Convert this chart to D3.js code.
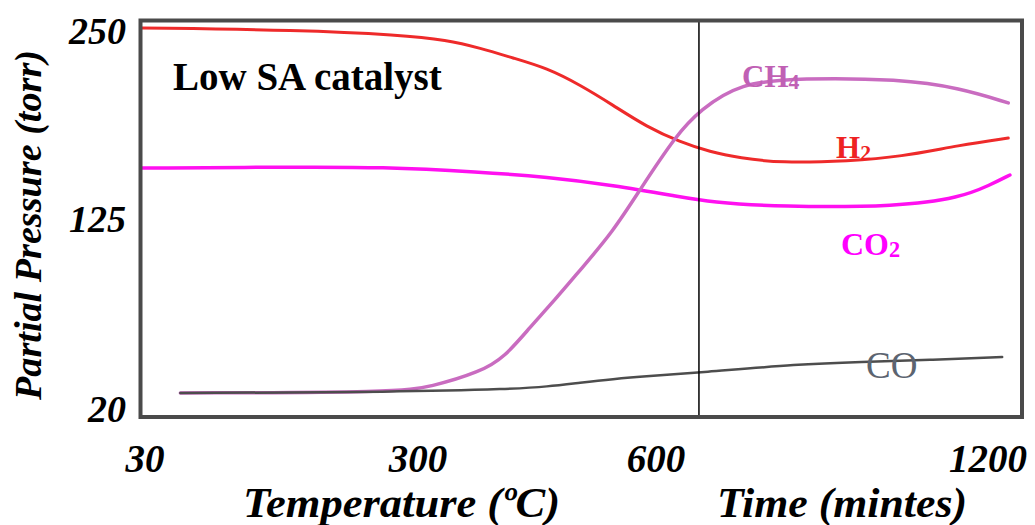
<!DOCTYPE html>
<html lang="en">
<head>
    <meta charset="UTF-8">
    <title>Low SA catalyst - partial pressures</title>
    <script src="https://d3js.org/d3.v7.min.js"></script>
    <style>
        body { margin: 0; background: #fff; }
        text { font-family: "Liberation Serif", "DejaVu Serif", serif; }
    </style>
</head>
<body>
    <script>
        // x is temperature (C) up to the divider, then time (minutes)
        const xTicks = [30, 300, 600, 1200];
        const yTicks = [20, 125, 250];
        const divider = 674;

        const h2X = [25, 181, 280, 334, 376, 417, 460, 502, 543, 586, 640, 694, 748, 820, 947, 1037, 1146, 1233];
        const h2Y = [251.3, 250, 246.7, 243.4, 238, 231.4, 224.7, 213.4, 200.1, 185.5, 175.5, 168.9, 164.9, 161.6, 162.9, 165.6, 173.5, 178.2];

        const co2X = [25, 181, 260, 376, 460, 543, 640, 694, 820, 1037, 1146, 1200, 1236];
        const co2Y = [158.2, 158.9, 158.9, 155.6, 152.3, 146.9, 139, 135.6, 132.3, 132.6, 138.5, 146.9, 153.6];

        const ch4X = [63, 277, 313, 376, 407, 439, 470, 502, 543, 577, 633, 676, 748, 857, 1037, 1146, 1233];
        const ch4Y = [28.3, 28.8, 31.6, 39.9, 48.2, 64.8, 79.7, 96.3, 117.3, 143.6, 180.2, 196.8, 214.8, 218.1, 217.4, 211.4, 201.5];

        const coX = [63, 280, 417, 460, 502, 543, 586, 676, 857, 965, 1091, 1222];
        const coY = [28.3, 28.8, 30.5, 31.8, 34.0, 36.0, 37.6, 39.6, 44.3, 45.4, 46.5, 48.2];

        const width = 1035, height = 525;
        const frame = { left: 140.5, top: 20.5, right: 1022, bottom: 417 };

        const svg = d3.select("body").append("svg")
            .attr("width", width)
            .attr("height", height);

        // the axis is not evenly spaced in the original, so piecewise scales
        const x = d3.scaleLinear()
            .domain(xTicks)
            .range([147, 420, 658, 990]);

        const y = d3.scaleLinear()
            .domain(yTicks)
            .range([408, 218, 30]);

        const line = d3.line()
            .x(d => x(d[0]))
            .y(d => y(d[1]))
            .curve(d3.curveBasis);

        const series = [
            { xs: co2X, ys: co2Y, color: "#ff10f0", w: 3.5 },
            { xs: h2X, ys: h2Y, color: "#ee2a2a", w: 3 },
            { xs: ch4X, ys: ch4Y, color: "#c96cc0", w: 3.5 },
            { xs: coX, ys: coY, color: "#4d4d4d", w: 2.5 }
        ];

        svg.selectAll("path.series")
            .data(series)
            .enter()
            .append("path")
            .attr("class", "series")
            .attr("d", s => line(s.xs.map((v, i) => [v, s.ys[i]])))
            .attr("fill", "none")
            .attr("stroke", s => s.color)
            .attr("stroke-width", s => s.w)
            .attr("stroke-linecap", "round");

        // divider between heating ramp and isothermal time
        svg.append("line")
            .attr("x1", x(divider)).attr("x2", x(divider))
            .attr("y1", frame.top).attr("y2", frame.bottom)
            .attr("stroke", "#000")
            .attr("stroke-width", 1.5);

        svg.append("rect")
            .attr("x", frame.left)
            .attr("y", frame.top)
            .attr("width", frame.right - frame.left)
            .attr("height", frame.bottom - frame.top)
            .attr("fill", "none")
            .attr("stroke", "#4a4a4a")
            .attr("stroke-width", 4);

        // tick labels
        svg.selectAll("text.xtick")
            .data(xTicks)
            .enter()
            .append("text")
            .attr("class", "xtick")
            .attr("x", d => x(d) - 2)
            .attr("y", 472)
            .attr("text-anchor", "middle")
            .style("font-size", "39px")
            .style("font-weight", "bold")
            .style("font-style", "italic")
            .text(d => d);

        svg.selectAll("text.ytick")
            .data(yTicks)
            .enter()
            .append("text")
            .attr("class", "ytick")
            .attr("x", 126)
            .attr("y", d => y(d) + 14)
            .attr("text-anchor", "end")
            .style("font-size", "38px")
            .style("font-weight", "bold")
            .style("font-style", "italic")
            .text(d => d);

        // axis titles
        svg.append("text")
            .attr("x", 243).attr("y", 517)
            .attr("textLength", 317)
            .attr("lengthAdjust", "spacingAndGlyphs")
            .style("font-size", "42px")
            .style("font-weight", "bold")
            .style("font-style", "italic")
            .text("Temperature (ºC)");

        svg.append("text")
            .attr("x", 717).attr("y", 517)
            .attr("textLength", 250)
            .attr("lengthAdjust", "spacingAndGlyphs")
            .style("font-size", "42px")
            .style("font-weight", "bold")
            .style("font-style", "italic")
            .text("Time (mintes)");

        svg.append("text")
            .attr("transform", "translate(41,225) rotate(-90)")
            .attr("text-anchor", "middle")
            .attr("textLength", 350)
            .attr("lengthAdjust", "spacingAndGlyphs")
            .style("font-size", "37px")
            .style("font-weight", "bold")
            .style("font-style", "italic")
            .text("Partial Pressure (torr)");

        svg.append("text")
            .attr("x", 173).attr("y", 90)
            .style("font-size", "39px")
            .style("font-weight", "bold")
            .text("Low SA catalyst");

        // series labels
        const labels = [
            { t: "CH", sub: "4", x: 742, y: 87, color: "#c060b4", size: 31, bold: true },
            { t: "H", sub: "2", x: 836, y: 158, color: "#ee2222", size: 31, bold: true },
            { t: "CO", sub: "2", x: 841, y: 255, color: "#ff00ff", size: 32, bold: true },
            { t: "CO", sub: "", x: 866, y: 378, color: "#5c6470", size: 37, bold: false }
        ];

        const lab = svg.selectAll("text.lab")
            .data(labels)
            .enter()
            .append("text")
            .attr("class", "lab")
            .attr("x", d => d.x)
            .attr("y", d => d.y)
            .attr("fill", d => d.color)
            .style("font-size", d => d.size + "px")
            .style("font-weight", d => d.bold ? "bold" : "normal");

        lab.append("tspan").text(d => d.t);
        lab.append("tspan")
            .attr("dy", 2)
            .style("font-size", d => (d.size * 0.7) + "px")
            .text(d => d.sub);
    </script>
</body>
</html>
